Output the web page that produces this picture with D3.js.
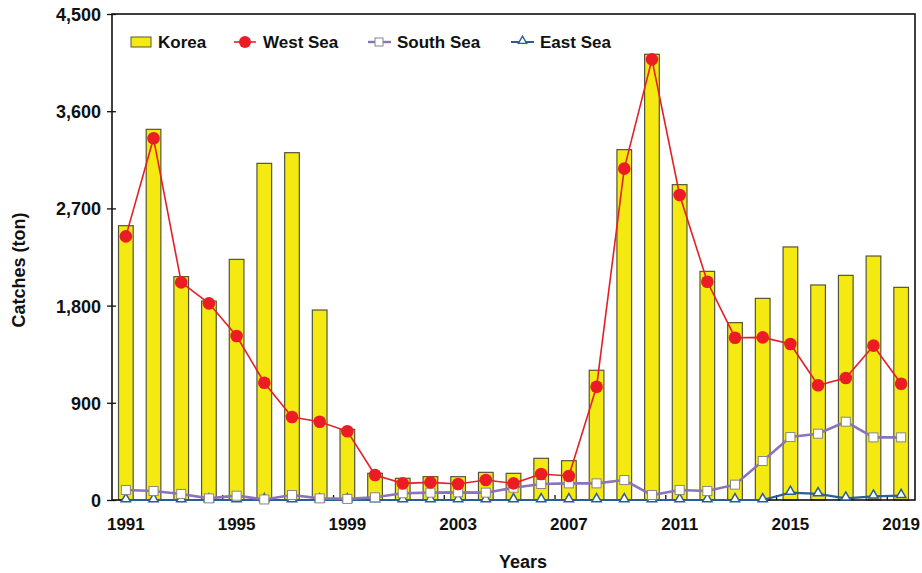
<!DOCTYPE html>
<html><head><meta charset="utf-8">
<script src="https://cdn.jsdelivr.net/npm/d3@7"></script>
<style>body{margin:0;background:#fff}svg{display:block}text{font-family:"Liberation Sans",Arial,sans-serif;font-weight:bold;fill:#111}</style>
</head><body>
<script>
const years = d3.range(1991, 2020).map(String);
const korea = [2540,3432,2068,1842,2228,3117,3216,1759,654,247,201,216,216,256,247,386,364,1201,3244,4127,2920,2117,1642,1867,2343,1991,2080,2259,1969];
const westSea = [2441,3349,2015,1821,1518,1086,768,725,636,231,154,163,148,185,154,241,222,1049,3068,4080,2824,2021,1503,1506,1444,1062,1130,1429,1077];
const southSea = [93,83,56,15,40,5,46,15,10,25,62,68,71,68,114,148,154,154,185,46,93,83,142,361,583,614,725,580,580];
const eastSea = [0,0,0,0,0,0,0,0,0,0,0,0,0,0,0,0,0,0,0,0,0,0,0,0,68,56,15,34,40];
const yTicks = [0,900,1800,2700,3600,4500];
const xLabelYears = ["1991","1995","1999","2003","2007","2011","2015","2019"];

const W=922,H=573, m={l:112,r:7,t:14,b:73};
const svg=d3.select("body").append("svg").attr("width",W).attr("height",H);
const x=d3.scaleBand().domain(years).range([m.l,W-m.r]).paddingInner(0.47).paddingOuter(0.235);
const y=d3.scaleLinear().domain([0,4500]).range([H-m.b,m.t]);
const cx=d=>x(d)+x.bandwidth()/2;

// bars
svg.append("g").selectAll("rect").data(years).join("rect")
 .attr("x",d=>x(d)).attr("width",x.bandwidth())
 .attr("y",(d,i)=>y(korea[i])).attr("height",(d,i)=>y(0)-y(korea[i]))
 .attr("fill","#f5e912").attr("stroke","#55553a").attr("stroke-width",1.2);

// frame
svg.append("rect").attr("x",m.l).attr("y",m.t).attr("width",W-m.r-m.l).attr("height",H-m.b-m.t)
 .attr("fill","none").attr("stroke","#111").attr("stroke-width",1.6);

// y axis
const ya=svg.append("g").attr("transform",`translate(${m.l},0)`)
 .call(d3.axisLeft(y).tickValues(yTicks).tickFormat(d3.format(",")).tickSize(5));
ya.select(".domain").remove();
ya.selectAll(".tick line").attr("x2",4).attr("x1",-5).attr("stroke","#111").attr("stroke-width",1.3);
ya.selectAll(".tick text").attr("x",-11).style("font-size","18px").attr("dy","0.36em");

// x axis labels
const xa=svg.append("g").attr("transform",`translate(0,${y(0)})`)
 .call(d3.axisBottom(x).tickValues(xLabelYears).tickSize(0).tickPadding(18));
xa.select(".domain").remove();
xa.selectAll(".tick text").style("font-size","17px");
// x minor ticks at band boundaries every 4 years
const step=x.step();
const bnd=[4,8,12,16,20,24,28];
svg.append("g").selectAll("line").data(bnd).join("line")
 .attr("x1",d=>m.l+d*step).attr("x2",d=>m.l+d*step)
 .attr("y1",y(0)).attr("y2",y(0)-5).attr("stroke","#111").attr("stroke-width",1.3);

// lines
function series(vals,color,width){
  svg.append("path").datum(vals).attr("fill","none").attr("stroke",color).attr("stroke-width",width)
   .attr("d",d3.line().x((d,i)=>cx(years[i])).y(d=>y(d)));
}
series(eastSea,"#2b5d97",2.2);
series(southSea,"#8b73b8",2.6);
series(westSea,"#e32028",1.6);

const sym=svg.append("g");
sym.selectAll(".tri").data(eastSea).join("path")
 .attr("transform",(d,i)=>`translate(${cx(years[i])},${y(d)-1})`)
 .attr("d",d3.symbol(d3.symbolTriangle,38)).attr("fill","#fff").attr("stroke","#2b5d97").attr("stroke-width",1.5);
sym.selectAll(".sq").data(southSea).join("rect")
 .attr("x",(d,i)=>cx(years[i])-4.5).attr("y",d=>y(d)-4.5).attr("width",9).attr("height",9)
 .attr("fill","#fff").attr("stroke","#888").attr("stroke-width",1);
sym.selectAll(".c").data(westSea).join("circle")
 .attr("cx",(d,i)=>cx(years[i])).attr("cy",d=>y(d)).attr("r",6.3).attr("fill","#ec1c24");

// axis titles
svg.append("text").attr("transform","translate(25,270) rotate(-90)").attr("text-anchor","middle")
 .style("font-size","18px").text("Catches (ton)");
svg.append("text").attr("x",523).attr("y",568).attr("text-anchor","middle")
 .style("font-size","18px").text("Years");

// legend
const lg=svg.append("g").attr("transform","translate(0,42)");
lg.append("rect").attr("x",131).attr("y",-5).attr("width",20).attr("height",10).attr("fill","#f5e912").attr("stroke","#55553a");
lg.append("text").attr("x",158).attr("y",6).style("font-size","17px").text("Korea");
lg.append("line").attr("x1",234).attr("x2",256).attr("stroke","#e32028").attr("stroke-width",1.6);
lg.append("circle").attr("cx",245).attr("r",6).attr("fill","#ec1c24");
lg.append("text").attr("x",263).attr("y",6).style("font-size","17px").text("West Sea");
lg.append("line").attr("x1",368).attr("x2",391).attr("stroke","#8b73b8").attr("stroke-width",2.4);
lg.append("rect").attr("x",375).attr("y",-4).attr("width",8).attr("height",8).attr("fill","#fff").attr("stroke","#888");
lg.append("text").attr("x",397).attr("y",6).style("font-size","17px").text("South Sea");
lg.append("line").attr("x1",511).attr("x2",534).attr("stroke","#2b5d97").attr("stroke-width",2);
lg.append("path").attr("transform","translate(522.5,-1)").attr("d",d3.symbol(d3.symbolTriangle,30)).attr("fill","#fff").attr("stroke","#2b5d97").attr("stroke-width",1.4);
lg.append("text").attr("x",540).attr("y",6).style("font-size","17px").text("East Sea");
</script>
</body></html>
